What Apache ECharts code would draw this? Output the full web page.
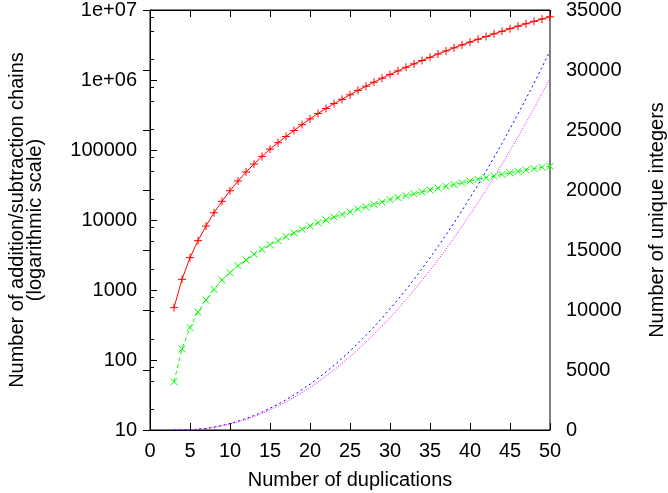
<!DOCTYPE html>
<html lang="en">
<head>
    <meta charset="UTF-8">
    <title>chains</title>
    <script src="https://cdn.jsdelivr.net/npm/echarts@6/dist/echarts.min.js"></script>
    <style>
        html, body { margin: 0; padding: 0; background: #fff; }
        #main { width: 668px; height: 493px; }
    </style>
</head>
<body>
<div id="main"></div>
<script>
    // x: number of duplications
    var duplications = [3, 4, 5, 6, 7, 8, 9, 10, 11, 12, 13, 14, 15, 16, 17, 18, 19, 20, 21, 22, 23, 24, 25, 26,
        27, 28, 29, 30, 31, 32, 33, 34, 35, 36, 37, 38, 39, 40, 41, 42, 43, 44, 45, 46, 47, 48, 49, 50];

    // left axis (log) - red "+" series
    var chainsRed = [560, 1420, 2900, 5070, 8200, 12700, 18500, 26200, 36100, 48500, 63000, 81000, 103000, 127000,
        156000, 190000, 230000, 278000, 332000, 392000, 460000, 530000, 615000, 710000, 815000, 930000, 1060000,
        1200000, 1350000, 1520000, 1700000, 1900000, 2110000, 2350000, 2600000, 2880000, 3170000, 3480000, 3820000,
        4180000, 4560000, 4970000, 5400000, 5870000, 6360000, 6880000, 7430000, 8000000];

    // left axis (log) - green "x" series
    var chainsGreen = [49, 144, 290, 485, 720, 1020, 1390, 1770, 2220, 2680, 3240, 3810, 4440, 5070, 5780, 6520,
        7360, 8210, 9150, 10000, 11000, 12000, 13100, 14300, 15400, 16700, 18000, 19600, 20900, 22300, 23700, 25200,
        26900, 28500, 30300, 32100, 34000, 36100, 38100, 40300, 42500, 44800, 47100, 49400, 51800, 54200, 56600, 58500];

    // right axis - unique integers
    var uniqueBlue = [0, 0, 15, 60, 130, 240, 370, 540, 730, 960, 1210, 1490, 1810, 2150, 2520, 2930, 3360, 3820,
        4310, 4840, 5390, 5970, 6580, 7230, 7900, 8600, 9330, 10090, 10880, 11700, 12560, 13440, 14350, 15290, 16260,
        17260, 18290, 19350, 20440, 21560, 22710, 23890, 25100, 26340, 27600, 28900, 30230, 31590];
    var uniqueMagenta = [0, 0, 14, 55, 125, 220, 350, 500, 680, 890, 1120, 1390, 1680, 1990, 2340, 2720, 3120, 3550,
        4000, 4490, 5000, 5540, 6110, 6700, 7330, 7980, 8660, 9360, 10100, 10860, 11650, 12470, 13310, 14180, 15080,
        16010, 16970, 17950, 18960, 20000, 21070, 22160, 23280, 24430, 25610, 26810, 28050, 29310];

    // tick labels
    var logTickValues = [10, 100, 1000, 10000, 100000, 1000000, 10000000];
    var logTickLabels = ['10', '100', '1000', '10000', '100000', '1e+06', '1e+07'];
    var logMinorTicks = [20, 50, 80, 200, 500, 800, 2000, 5000, 8000, 20000, 50000, 80000,
        200000, 500000, 800000, 2000000, 5000000, 8000000];

    function pairs(xs, ys) {
        var out = [];
        for (var i = 0; i < xs.length; i++) out.push([xs[i], ys[i]]);
        return out;
    }

    var font = 'Liberation Sans, Arial, sans-serif';
    var txt = { color: '#000', fontFamily: font, fontSize: 20 };
    var plus = 'path://M0,5L10,5M5,0L5,10';
    var cross = 'path://M0,0L10,10M10,0L0,10';

    var myChart = echarts.init(document.getElementById('main'), null, { renderer: 'canvas' });

    var option = {
        animation: false,
        backgroundColor: '#fff',
        grid: {
            left: 150, right: 118, top: 10, bottom: 63,
            outerBoundsMode: 'none', containLabel: false,
            show: true, borderColor: '#000', borderWidth: 1, backgroundColor: 'transparent'
        },
        xAxis: [{
            type: 'value', min: 0, max: 50, interval: 5, position: 'bottom',
            name: 'Number of duplications', nameLocation: 'middle', nameGap: 40,
            nameTextStyle: txt,
            axisLine: { show: true, lineStyle: { color: '#000', width: 1 } },
            axisTick: { show: true, inside: true, length: 7, lineStyle: { color: '#000' } },
            axisLabel: Object.assign({ margin: 11 }, txt),
            splitLine: { show: false }
        }, {
            type: 'value', min: 0, max: 50, interval: 5, position: 'top',
            axisLine: { show: true, lineStyle: { color: '#000', width: 1 } },
            axisTick: { show: true, inside: true, length: 7, lineStyle: { color: '#000' } },
            axisLabel: { show: false },
            splitLine: { show: false }
        }],
        yAxis: [{
            type: 'log', logBase: 10, min: 10, max: 10000000, position: 'left',
            name: 'Number of addition/subtraction chains\n(logarithmic scale)',
            nameLocation: 'middle', nameRotate: 90, nameGap: 106,
            nameTextStyle: Object.assign({ lineHeight: 18 }, txt),
            axisLine: { show: true, lineStyle: { color: '#000', width: 1 } },
            axisTick: { show: true, inside: true, length: 7, lineStyle: { color: '#000' },
                customValues: logTickValues },
            axisLabel: Object.assign({
                margin: 13, customValues: logTickValues,
                formatter: function (v) {
                    var i = logTickValues.indexOf(Math.round(v));
                    return i >= 0 ? logTickLabels[i] : '';
                }
            }, txt),
            splitLine: { show: false }
        }, {
            type: 'value', min: 0, max: 35000, interval: 5000, position: 'right',
            name: 'Number of unique integers',
            nameLocation: 'middle', nameRotate: 90, nameGap: 97,
            nameTextStyle: txt,
            axisLine: { show: true, lineStyle: { color: '#000', width: 1 } },
            axisTick: { show: true, inside: true, length: 7, lineStyle: { color: '#000' } },
            axisLabel: Object.assign({
                margin: 16,
                formatter: function (v) { return String(v); }
            }, txt),
            splitLine: { show: false }
        }, {
            // minor ticks of the log axis
            type: 'log', logBase: 10, min: 10, max: 10000000, position: 'left',
            axisLine: { show: false },
            axisTick: { show: true, inside: true, length: 4, lineStyle: { color: '#000' },
                customValues: logMinorTicks },
            axisLabel: { show: false },
            splitLine: { show: false }
        }],
        series: [{
            name: 'red', type: 'line', xAxisIndex: 0, yAxisIndex: 0,
            data: pairs(duplications, chainsRed),
            symbol: plus, symbolSize: 8, showSymbol: true,
            lineStyle: { color: '#ff0000', width: 1 },
            itemStyle: { color: '#ff0000', borderColor: '#ff0000', borderWidth: 1 },
            z: 4
        }, {
            name: 'green', type: 'line', xAxisIndex: 0, yAxisIndex: 0,
            data: pairs(duplications, chainsGreen),
            symbol: cross, symbolSize: 7, showSymbol: true,
            lineStyle: { color: '#00ff00', width: 1, type: [4, 3] },
            itemStyle: { color: '#00ff00', borderColor: '#00ff00', borderWidth: 1 },
            z: 4
        }, {
            name: 'blue', type: 'line', xAxisIndex: 0, yAxisIndex: 1,
            data: pairs(duplications, uniqueBlue),
            symbol: 'none',
            lineStyle: { color: '#0000ff', width: 1, type: [2, 3] },
            z: 3
        }, {
            name: 'magenta', type: 'line', xAxisIndex: 0, yAxisIndex: 1,
            data: pairs(duplications, uniqueMagenta),
            symbol: 'none',
            lineStyle: { color: '#ff00ff', width: 1, type: [1, 1.5] },
            z: 3
        }]
    };

    myChart.setOption(option);
</script>
</body>
</html>
